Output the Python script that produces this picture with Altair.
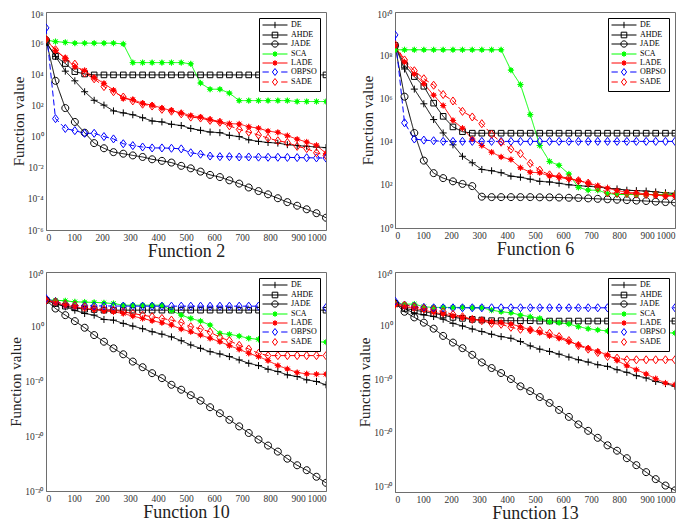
import altair as alt
import pandas as pd

ITERATIONS = [0, 34, 69, 103, 138, 172, 207, 241, 276, 310, 345, 379, 414, 448, 483,
              517, 552, 586, 621, 655, 690, 724, 759, 793, 828, 862, 897, 931, 966, 1000]
ALGORITHMS = ["DE", "AHDE", "JADE", "SCA", "LADE", "OBPSO", "SADE"]
LINE_COLORS = ["#000000", "#000000", "#000000", "#00ff00", "#ff0000", "#0000ff", "#ff0000"]
MARKER_FILLS = ["transparent", "transparent", "transparent", "#00ff00", "#ff0000", "transparent", "transparent"]
DASHES = [[1, 0], [1, 0], [1, 0], [1, 0], [1, 0], [6, 3], [6, 3]]
X_TICKS = [0, 100, 200, 300, 400, 500, 600, 700, 800, 900, 1000]
PANEL_TITLES = ["Function 2", "Function 6", "Function 10", "Function 13"]

# ---- log10(function value), one entry per marker ----
F2_DE = [6.08, 5.15, 4.2, 3.58, 2.88, 2.33, 2.02, 1.65, 1.52, 1.4, 1.21, 1.0, 0.94, 0.79, 0.71,
         0.52, 0.40, 0.29, 0.25, 0.08, 0.0, -0.21, -0.31, -0.38, -0.42, -0.52, -0.58, -0.62, -0.67, -0.71]
F2_AHDE = [6.05, 5.15, 4.69, 4.17, 4.02, 3.96, 3.96, 3.96, 3.96, 3.96, 3.96, 3.96, 3.96, 3.96, 3.96,
           3.96, 3.96, 3.96, 3.96, 3.96, 3.96, 3.96, 3.96, 3.96, 3.96, 3.96, 3.96, 3.96, 3.96, 3.96]
F2_JADE = [6.2, 3.58, 1.83, 0.94, 0.25, -0.42, -0.75, -1.0, -1.1, -1.21, -1.31, -1.46, -1.56, -1.67, -1.88,
           -2.04, -2.25, -2.46, -2.6, -2.81, -3.02, -3.27, -3.5, -3.71, -3.96, -4.21, -4.44, -4.67, -4.92, -5.21]
F2_SCA = [6.2, 6.1, 6.05, 6.0, 6.0, 6.0, 6.0, 6.0, 5.95, 4.75, 4.75, 4.75, 4.75, 4.75, 4.75,
          4.67, 3.44, 3.04, 3.04, 2.79, 2.31, 2.31, 2.31, 2.31, 2.31, 2.31, 2.25, 2.25, 2.25, 2.25]
F2_LADE = [6.25, 5.52, 5.04, 4.48, 4.25, 3.79, 3.42, 2.98, 2.44, 2.38, 2.13, 2.02, 1.83, 1.67, 1.52,
           1.35, 1.25, 1.1, 0.96, 0.83, 0.81, 0.63, 0.54, 0.35, 0.27, 0.06, -0.17, -0.35, -0.56, -1.08]
F2_OBPSO = [6.98, 1.15, 0.52, 0.38, 0.21, 0.21, 0.0, -0.15, -0.46, -0.58, -0.67, -0.73, -0.73, -0.75, -0.79,
            -1.04, -1.13, -1.25, -1.29, -1.29, -1.31, -1.31, -1.32, -1.33, -1.33, -1.34, -1.35, -1.36, -1.37, -1.38]
F2_SADE = [6.25, 5.58, 5.0, 4.65, 4.08, 3.71, 3.21, 2.88, 2.54, 2.29, 2.08, 1.96, 1.75, 1.63, 1.46,
           1.25, 1.19, 1.04, 0.92, 0.69, 0.46, 0.29, 0.1, -0.1, -0.27, -0.38, -0.63, -0.77, -1.04, -1.21]

F6_DE = [8.45, 7.36, 6.43, 5.75, 5.02, 4.4, 3.85, 3.32, 3.02, 2.71, 2.65, 2.56, 2.40, 2.35, 2.26,
         2.16, 2.13, 2.07, 2.0, 1.96, 1.93, 1.9, 1.84, 1.81, 1.75, 1.73, 1.71, 1.67, 1.63, 1.6]
F6_AHDE = [8.45, 7.54, 7.01, 6.56, 5.78, 5.17, 4.68, 4.46, 4.39, 4.39, 4.39, 4.39, 4.39, 4.39, 4.39,
           4.39, 4.39, 4.39, 4.39, 4.39, 4.39, 4.39, 4.39, 4.39, 4.39, 4.39, 4.39, 4.39, 4.39, 4.39]
F6_JADE = [8.45, 6.08, 4.4, 3.12, 2.54, 2.31, 2.16, 2.04, 1.94, 1.45, 1.43, 1.43, 1.43, 1.43, 1.43,
           1.42, 1.42, 1.41, 1.40, 1.39, 1.37, 1.35, 1.33, 1.31, 1.29, 1.27, 1.25, 1.22, 1.2, 1.18]
F6_SCA = [8.25, 8.25, 8.25, 8.25, 8.25, 8.25, 8.25, 8.25, 8.25, 8.25, 8.25, 8.25, 7.31, 6.64, 5.25,
          3.82, 3.08, 2.9, 2.5, 1.88, 1.75, 1.75, 1.6, 1.55, 1.55, 1.55, 1.55, 1.55, 1.55, 1.55]
F6_LADE = [8.45, 7.69, 7.13, 6.68, 6.15, 5.67, 4.98, 4.62, 4.12, 3.82, 3.51, 3.29, 3.17, 2.79, 2.58,
           2.56, 2.41, 2.35, 2.26, 2.2, 2.08, 1.96, 1.85, 1.73, 1.66, 1.63, 1.57, 1.52, 1.48, 1.48]
F6_OBPSO = [8.94, 4.87, 4.12, 4.07, 4.04, 4.01, 4.01, 4.01, 4.01, 4.01, 4.01, 4.01, 4.01, 4.01, 4.01,
            4.01, 4.01, 4.01, 4.01, 4.01, 4.01, 4.01, 4.01, 4.01, 4.01, 4.01, 4.01, 4.01, 4.01, 4.01]
F6_SADE = [8.49, 7.78, 7.28, 6.91, 6.61, 6.18, 5.88, 5.4, 5.14, 4.83, 4.34, 3.97, 3.65, 3.44, 2.99,
           2.68, 2.46, 2.38, 2.31, 2.19, 2.08, 1.88, 1.63, 1.6, 1.6, 1.57, 1.55, 1.54, 1.51, 1.51]

F10_DE = [4.85, 4.24, 3.64, 3.03, 2.42, 2.12, 1.33, 1.21, 0.61, 0.12, -0.36, -0.91, -1.35, -1.85, -2.55,
          -3.33, -3.94, -4.55, -4.97, -5.45, -6.06, -6.67, -7.09, -7.76, -8.18, -8.79, -9.09, -9.7, -10.0, -10.6]
F10_AHDE = [4.85, 4.24, 3.76, 3.45, 3.2, 3.15, 3.03, 3.03, 3.03, 3.03, 3.03, 3.03, 3.03, 3.03, 3.03,
            3.03, 3.03, 3.03, 3.03, 3.03, 3.03, 3.03, 3.03, 3.03, 3.03, 3.03, 3.03, 3.03, 3.03, 3.03]
F10_JADE = [4.85, 3.33, 2.12, 1.03, -0.18, -1.52, -2.73, -3.94, -5.03, -6.36, -7.39, -8.48, -9.39, -10.6, -11.5,
            -12.5, -13.5, -14.7, -15.8, -17.0, -18.2, -19.4, -20.6, -21.7, -22.8, -24.1, -25.3, -26.2, -27.4, -28.5]
F10_SCA = [4.85, 4.85, 4.73, 4.55, 4.5, 4.45, 4.36, 4.24, 3.94, 3.94, 3.94, 3.94, 3.94, 2.97, 2.12,
           1.52, 1.03, 0.3, -1.21, -1.39, -1.7, -2.12, -2.3, -2.5, -2.55, -2.6, -2.65, -2.7, -2.75, -2.8]
F10_LADE = [4.85, 4.36, 3.94, 3.64, 3.33, 3.15, 2.91, 2.73, 2.42, 1.94, 1.52, 1.09, 0.73, 0.3, -0.42,
            -0.91, -1.52, -2.12, -2.73, -3.45, -4.12, -4.85, -5.45, -6.18, -7.09, -7.7, -8.36, -8.6, -8.67, -8.67]
F10_OBPSO = [5.15, 4.6, 4.1, 3.9, 3.85, 3.8, 3.8, 3.78, 3.78, 3.77, 3.77, 3.76, 3.76, 3.76, 3.76,
             3.76, 3.76, 3.76, 3.76, 3.76, 3.76, 3.76, 3.76, 3.76, 3.76, 3.76, 3.75, 3.74, 3.7, 3.5]
F10_SADE = [4.85, 4.55, 4.12, 3.94, 3.64, 3.33, 3.15, 3.03, 2.73, 2.42, 2.12, 1.82, 1.52, 1.21, 0.79,
            0.0, -0.36, -0.97, -1.94, -2.55, -3.39, -4.06, -4.85, -5.27, -5.27, -5.27, -5.27, -5.27, -5.27, -5.27]

F13_DE = [4.0, 3.2, 2.3, 2.0, 1.7, 1.2, 0.43, -0.06, -0.62, -1.1, -1.6, -2.04, -2.35, -2.96, -3.77,
          -4.38, -4.81, -5.31, -5.86, -6.36, -6.79, -7.28, -7.59, -8.21, -8.7, -9.32, -9.75, -10.4, -10.8, -11.3]
F13_AHDE = [4.14, 3.2, 2.9, 2.6, 2.28, 1.98, 1.54, 1.36, 1.17, 1.05, 0.93, 0.93, 0.93, 0.93, 0.93,
            0.86, 0.86, 0.86, 0.86, 0.86, 0.86, 0.86, 0.86, 0.86, 0.86, 0.86, 0.86, 0.86, 0.86, 0.86]
F13_JADE = [4.14, 2.59, 1.54, 0.56, -0.56, -1.91, -3.15, -4.2, -5.43, -6.85, -7.9, -8.83, -9.94, -11.3, -12.2,
            -13.3, -14.4, -15.7, -17.0, -18.4, -19.6, -20.9, -22.3, -23.3, -24.7, -26.0, -27.3, -28.6, -29.8, -30.7]
F13_SCA = [4.14, 4.01, 4.01, 3.52, 3.4, 3.4, 3.4, 3.4, 3.33, 3.33, 2.9, 2.59, 2.41, 1.98, 1.67,
           1.36, 0.74, 0.56, 0.31, -0.19, -0.56, -0.8, -0.99, -1.1, -1.15, -1.2, -1.25, -1.3, -1.33, -1.37]
F13_LADE = [3.83, 3.52, 3.2, 2.9, 2.47, 2.16, 1.79, 1.54, 1.23, 1.05, 0.74, 0.62, 0.31, -0.19, -0.8,
            -1.3, -1.91, -2.35, -2.96, -3.58, -4.2, -4.81, -5.43, -6.48, -7.47, -8.21, -9.01, -9.88, -10.7, -11.0]
F13_OBPSO = [4.57, 3.83, 3.64, 3.4, 3.33, 3.33, 3.33, 3.33, 3.33, 3.33, 3.33, 3.33, 3.33, 3.33, 3.33,
             3.33, 3.33, 3.33, 3.33, 3.33, 3.33, 3.33, 3.33, 3.33, 3.33, 3.33, 3.33, 3.33, 3.33, 3.33]
F13_SADE = [4.0, 3.83, 3.52, 3.2, 3.02, 2.6, 2.1, 1.67, 1.17, 0.93, 0.43, 0.25, -0.31, -0.68, -0.8,
            -0.93, -1.42, -2.04, -2.78, -3.7, -4.38, -5.0, -5.74, -6.05, -6.36, -6.36, -6.36, -6.36, -6.36, -6.36]

PANEL_SERIES = [
    [F2_DE, F2_AHDE, F2_JADE, F2_SCA, F2_LADE, F2_OBPSO, F2_SADE],
    [F6_DE, F6_AHDE, F6_JADE, F6_SCA, F6_LADE, F6_OBPSO, F6_SADE],
    [F10_DE, F10_AHDE, F10_JADE, F10_SCA, F10_LADE, F10_OBPSO, F10_SADE],
    [F13_DE, F13_AHDE, F13_JADE, F13_SCA, F13_LADE, F13_OBPSO, F13_SADE],
]
Y_DOMAINS = [[1e-6, 1e8], [1e0, 1e10], [1e-30, 1e10], [1e-31, 1e10]]
Y_TICKS = [[1e-6, 1e-4, 1e-2, 1e0, 1e2, 1e4, 1e6, 1e8],
           [1e0, 1e2, 1e4, 1e6, 1e8, 1e10],
           [1e-30, 1e-20, 1e-10, 1e0, 1e10],
           [1e-30, 1e-20, 1e-10, 1e0, 1e10]]
PANEL_HEIGHTS = [218, 216, 219, 220]
PANEL_WIDTH = 280

FONT = "Liberation Serif"

# marker glyphs (unit = half of sqrt(size))
STAR = ("M-0.9,0H0.9M0,-0.9V0.9M-0.65,-0.65L0.65,0.65M-0.65,0.65L0.65,-0.65"
        "M0.5,0A0.5 0.5 0 1 1 -0.5,0A0.5 0.5 0 1 1 0.5,0Z")
DIAMOND = "M0,-1.15L0.85,0L0,1.15L-0.85,0Z"
MARKERS = ["M-1,0H1M0,-1V1",
           "M-0.8,-0.8H0.8V0.8H-0.8Z",
           "M1,0A1 1 0 1 1 -1,0A1 1 0 1 1 1,0Z",
           STAR, STAR, DIAMOND, DIAMOND]

# legend glyphs: line sample with the marker in its middle (unit = 3.5 px)
LG_STAR = ("M-1,0H6.14M2.57,-0.85V0.85M1.97,-0.6L3.17,0.6M1.97,0.6L3.17,-0.6"
           "M3.0,0A0.43 0.43 0 1 1 2.14,0A0.43 0.43 0 1 1 3.0,0Z")
LG_DIAMOND = "M-1,0H0.8M4.34,0H6.14M2.57,-1.0L3.32,0L2.57,1.0L1.82,0Z"
LEGEND_GLYPHS = ["M-1,0H6.14M2.57,-0.9V0.9",
                 "M-1,0H6.14M1.77,-0.8H3.37V0.8H1.77Z",
                 "M-1,0H6.14M3.47,0A0.9 0.9 0 1 1 1.67,0A0.9 0.9 0 1 1 3.47,0Z",
                 LG_STAR, LG_STAR, LG_DIAMOND, LG_DIAMOND]

SUP = [("-", "⁻"), ("0", "⁰"), ("1", "¹"), ("2", "²"), ("3", "³"), ("4", "⁴"),
       ("5", "⁵"), ("6", "⁶"), ("7", "⁷"), ("8", "⁸"), ("9", "⁹")]
_exp = "toString(round(log(datum.value)/LN10))"
for a, b in SUP:
    _exp = f"replace({_exp}, '{a}', '{b}')"
Y_LABEL_EXPR = "'10' + " + _exp


def make_panel(k):
    rows = []
    for alg, vals in zip(ALGORITHMS, PANEL_SERIES[k]):
        for it, v in zip(ITERATIONS, vals):
            rows.append({"iteration": it, "value": 10.0 ** v, "alg": alg})
    df = pd.DataFrame(rows)
    top_tick = Y_DOMAINS[k][1]

    x = alt.X("iteration:Q",
              scale=alt.Scale(domain=[0, 1000], nice=False, zero=False),
              axis=alt.Axis(values=X_TICKS, format="d", title=PANEL_TITLES[k],
                            titlePadding=1, labelPadding=2))
    y = alt.Y("value:Q",
              scale=alt.Scale(type="log", domain=Y_DOMAINS[k], nice=False),
              axis=alt.Axis(values=Y_TICKS[k], labelExpr=Y_LABEL_EXPR,
                            labelBaseline={"condition": {"test": f"datum.value >= {top_tick}", "value": "top"},
                                           "value": "middle"},
                            labelOffset={"condition": {"test": f"datum.value >= {top_tick}", "value": -3},
                                         "value": 0},
                            title="Function value", labelPadding=3, titlePadding=1))

    legend = alt.Legend(
        title=None, orient="top-right", offset=6, padding=3,
        strokeColor="#000000", fillColor="#ffffff", cornerRadius=0,
        labelFont=FONT, labelFontSize=8, labelColor="#000000", labelOffset=21,
        symbolSize=49, symbolStrokeWidth=1, rowPadding=-3)

    lines = alt.Chart(df).mark_line(strokeWidth=1, clip=True).encode(
        x=x, y=y,
        color=alt.Color("alg:N", scale=alt.Scale(domain=ALGORITHMS, range=LINE_COLORS), legend=None),
        strokeDash=alt.StrokeDash("alg:N", scale=alt.Scale(domain=ALGORITHMS, range=DASHES), legend=None),
    )
    points = alt.Chart(df).mark_point(size=49, strokeWidth=1, opacity=1, clip=True).encode(
        x=x, y=y,
        shape=alt.Shape("alg:N", scale=alt.Scale(domain=ALGORITHMS, range=MARKERS), legend=None),
        stroke=alt.Stroke("alg:N", scale=alt.Scale(domain=ALGORITHMS, range=LINE_COLORS), legend=None),
        fill=alt.Fill("alg:N", scale=alt.Scale(domain=ALGORITHMS, range=MARKER_FILLS), legend=None),
    )
    # legend-only layer: no rows pass the filter, its scales just feed the legend
    key = alt.Chart(df).transform_filter("datum.iteration < 0").mark_point(
        strokeWidth=1, opacity=1).encode(
        x=x, y=y,
        shape=alt.Shape("alg:N", scale=alt.Scale(domain=ALGORITHMS, range=LEGEND_GLYPHS), legend=legend),
        stroke=alt.Stroke("alg:N", scale=alt.Scale(domain=ALGORITHMS, range=LINE_COLORS), legend=legend),
        fill=alt.Fill("alg:N", scale=alt.Scale(domain=ALGORITHMS, range=MARKER_FILLS), legend=legend),
    )
    return alt.layer(lines, points, key).resolve_scale(
        shape="independent", stroke="independent", fill="independent"
    ).properties(width=PANEL_WIDTH, height=PANEL_HEIGHTS[k])


panels = [make_panel(k) for k in range(4)]

chart = alt.concat(
    *panels, columns=2, spacing={"row": 42, "column": 69}, bounds="flush"
).resolve_scale(
    color="independent", stroke="independent", fill="independent",
    shape="independent", strokeDash="independent", x="independent", y="independent"
).properties(
    padding={"left": 0, "top": 0, "right": 0, "bottom": 0}
).configure(
    font=FONT, background="#ffffff"
).configure_view(
    stroke="#6e6e6e", strokeWidth=1
).configure_axis(
    ticks=False, grid=False, domainColor="#6e6e6e", domainWidth=1,
    labelFont=FONT, labelFontSize=9.5, labelColor="#333333",
    titleFont=FONT, titleFontWeight="normal", titleColor="#222222",
).configure_axisX(
    titleFontSize=18
).configure_axisY(
    titleFontSize=15
)

chart.save("out.html", embed_options={"renderer": "svg", "actions": False})
